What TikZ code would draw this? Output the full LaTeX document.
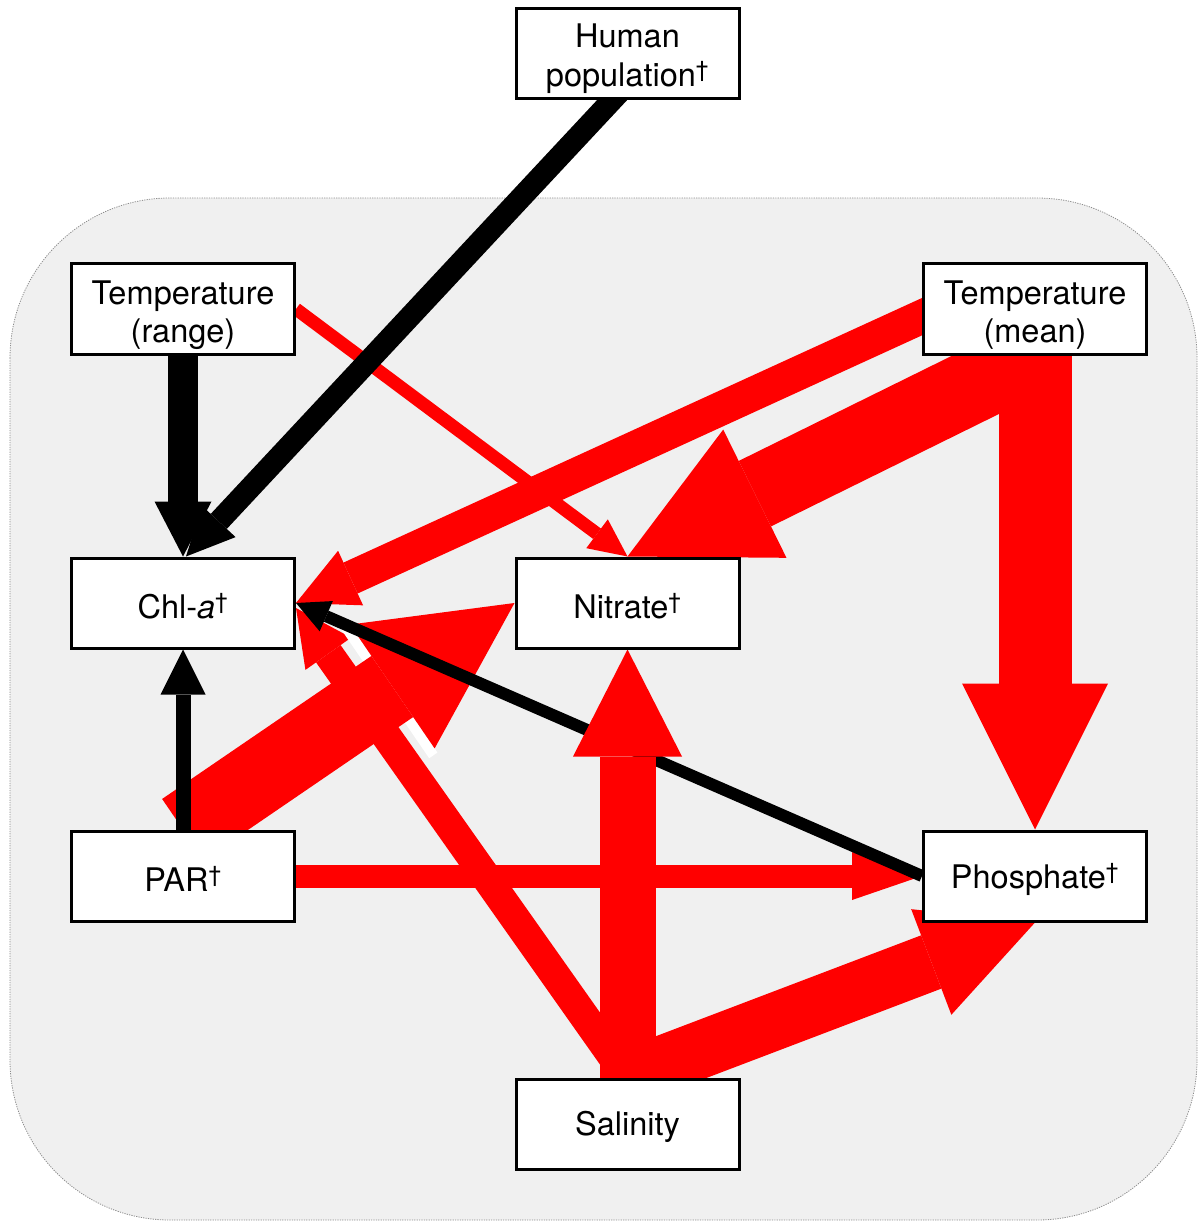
\documentclass[tikz,border=0pt]{standalone}
\usepackage{fontspec}
\setmainfont{TeX Gyre Heros}
\usetikzlibrary{arrows.meta,calc}
\definecolor{bgc}{HTML}{F0F0F0}
\definecolor{arred}{HTML}{FF0000}
\pgfdeclarelayer{bg}
\pgfdeclarelayer{arr}
\pgfsetlayers{bg,arr,main}
\newcommand\boxtext[2]{\raisebox{#1}[\height][\depth]{\parbox{220pt}{\centering #2}}}
\tikzset{
  box/.style={draw=black, line width=3pt, fill=white, minimum width=223pt,
    minimum height=90pt, inner sep=0pt, align=center,
    font=\fontsize{32.5}{38.5}\selectfont},
  redarr/.style args={#1/#2/#3}{draw=arred, line width=#1pt,
    -{Triangle[width=#2pt,length=#3pt,line width=0pt]}},
  blkarr/.style args={#1/#2/#3}{draw=black, line width=#1pt,
    -{Triangle[width=#2pt,length=#3pt,line width=0pt]}},
  gapline/.style={draw=white, line width=10pt},
}
\begin{document}
\begin{tikzpicture}[x=1pt,y=-1pt]
\useasboundingbox (0,0) rectangle (1199,1222);
\begin{pgfonlayer}{bg}
\filldraw[fill=bgc, draw=black!45, line width=0.8pt, dash pattern=on 1.2pt off 1.2pt,
  rounded corners=160pt] (10,198) rectangle (1197,1220);
\end{pgfonlayer}

\node[box] (human) at (627.5,53.5) {\boxtext{-5pt}{Human\\population\textsuperscript{†}}};
\node[box] (trange) at (183,309) {\boxtext{-6pt}{Temperature\\(range)}};
\node[box] (tmean) at (1035,309) {\boxtext{-6pt}{Temperature\\(mean)}};
\node[box] (chla) at (183,603) {\boxtext{-3pt}{Chl-\textit{a}\textsuperscript{†}}};
\node[box] (nitrate) at (627.5,603) {\boxtext{-3pt}{Nitrate\textsuperscript{†}}};
\node[box] (par) at (183,876) {\boxtext{-3pt}{PAR\textsuperscript{†}}};
\node[box] (phos) at (1035,876) {\boxtext{-3pt}{Phosphate\textsuperscript{†}}};
\node[box] (sal) at (627.5,1124) {\boxtext{-3pt}{Salinity}};

\begin{pgfonlayer}{arr}
\draw[redarr=13/36/38] (trange.east) -- (nitrate.north);
\draw[redarr=34/60/60] ([xshift=8pt,yshift=-4pt]tmean.west) -- (chla.east);
\draw[redarr=73/143/142] (tmean.south) -- (nitrate.north);
\draw[redarr=73/146/146] (tmean.south) -- (phos.north);
\draw[redarr=30/56/56] (sal.north) -- ([yshift=-5pt]chla.east);
\draw[redarr=57/113/111] (sal.north) -- (phos.south);
\draw[redarr=23/48/70] (par.east) -- (phos.west);
\coordinate (pnb) at ($(nitrate.west)!153pt!(par.north)$);
\draw[gapline] ($(pnb)!80pt!90:(nitrate.west)$) -- ($(pnb)!80pt!-90:(nitrate.west)$);
\draw[redarr=74/150/148] (par.north) -- (nitrate.west);
\draw[blkarr=12/33/33] (phos.west) -- (chla.east);
\draw[redarr=56/109/107] (sal.north) -- (nitrate.south);
\draw[blkarr=22/46/48] ([xshift=-6pt,yshift=10pt]human.south) -- ([xshift=3pt]chla.north);
\draw[blkarr=30/57/55] (trange.south) -- (chla.north);
\draw[blkarr=15/45/45] (par.north) -- (chla.south);
\end{pgfonlayer}
\end{tikzpicture}
\end{document}
